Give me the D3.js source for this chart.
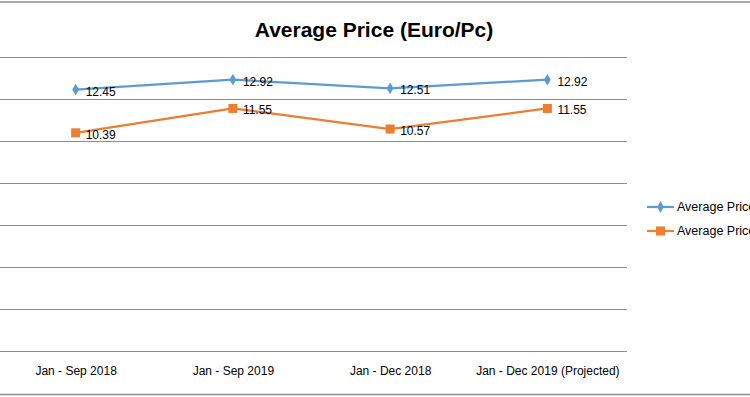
<!DOCTYPE html>
<html><head><meta charset="utf-8">
<script src="https://cdn.jsdelivr.net/npm/d3@7"></script>
<style>body{margin:0;background:#fff}svg{display:block}</style>
</head><body><svg id="c" width="750" height="397"></svg>
<script>
const categories = ["Jan - Sep 2018", "Jan - Sep 2019", "Jan - Dec 2018", "Jan - Dec 2019 (Projected)"];
const seriesA = [12.45, 12.92, 12.51, 12.92];
const seriesB = [10.39, 11.55, 10.57, 11.55];
const seriesNames = ["Average Price", "Average Price"];
const yTicks = [0, 2, 4, 6, 8, 10, 12, 14];

const svg = d3.select("#c");
const font = "'Liberation Sans Narrow', 'Arial Narrow', sans-serif";
const x = d3.scalePoint().domain(categories).range([-3, 626]).padding(0.5);
const y = d3.scaleLinear().domain([0, 14]).range([351, 57]);

// borders
svg.append("line").attr("x1",0).attr("x2",750).attr("y1",2).attr("y2",2).attr("stroke","#8c8c8c").attr("stroke-width",1.5);
svg.append("line").attr("x1",0).attr("x2",750).attr("y1",394.5).attr("y2",394.5).attr("stroke","#8c8c8c").attr("stroke-width",1.5);

// gridlines
svg.append("g").selectAll("line").data(yTicks).join("line")
  .attr("x1",0).attr("x2",627)
  .attr("y1",d=>Math.round(y(d))+0.5).attr("y2",d=>Math.round(y(d))+0.5)
  .attr("stroke","#8c8c8c").attr("stroke-width",1.2);

// title
svg.append("text").attr("x",374).attr("y",37).attr("text-anchor","middle")
  .attr("font-family",font).attr("font-weight","bold").attr("font-size",21).attr("fill","#000")
  .text("Average Price (Euro/Pc)");

// x axis labels
const xAxis = d3.axisBottom(x).tickSize(0).tickPadding(0);
const ax = svg.append("g").attr("transform","translate(0,366)").call(xAxis);
ax.select(".domain").remove();
ax.selectAll("text").attr("font-family",font).attr("font-size",12).attr("fill","#000");

const colors = ["#5B9BD5", "#ED7D31"];
const line = d3.line().x((d,i)=>x(categories[i])).y(d=>y(d));

[seriesA, seriesB].forEach((s, k) => {
  svg.append("path").datum(s).attr("d", line).attr("fill","none")
    .attr("stroke", colors[k]).attr("stroke-width", 2.2);
  const g = svg.append("g");
  s.forEach((v, i) => {
    const cx = x(categories[i]), cy = y(v);
    if (k === 0) {
      g.append("path").attr("d", d3.symbol(d3.symbolDiamond, 40)()).attr("transform",`translate(${cx},${cy})`).attr("fill",colors[k]);
    } else {
      g.append("rect").attr("x",cx-4.5).attr("y",cy-4.5).attr("width",9).attr("height",9).attr("fill",colors[k]);
    }
    g.append("text").attr("x", cx + 10).attr("y", cy + 6)
      .attr("font-family","'Liberation Sans', Arial, sans-serif").attr("font-size",12).attr("fill","#000")
      .text(v.toFixed(2));
  });
});

// legend
seriesNames.forEach((n, k) => {
  const ly = 207 + k*24;
  svg.append("line").attr("x1",647).attr("x2",674).attr("y1",ly).attr("y2",ly).attr("stroke",colors[k]).attr("stroke-width",2.2);
  if (k === 0) svg.append("path").attr("d", d3.symbol(d3.symbolDiamond, 40)()).attr("transform",`translate(660.5,${ly})`).attr("fill",colors[k]);
  else svg.append("rect").attr("x",656).attr("y",ly-4.5).attr("width",9).attr("height",9).attr("fill",colors[k]);
  svg.append("text").attr("x",677).attr("y",ly+4).attr("font-family",font).attr("font-size",12.5).attr("fill","#000").text(n);
});
</script></body></html>
